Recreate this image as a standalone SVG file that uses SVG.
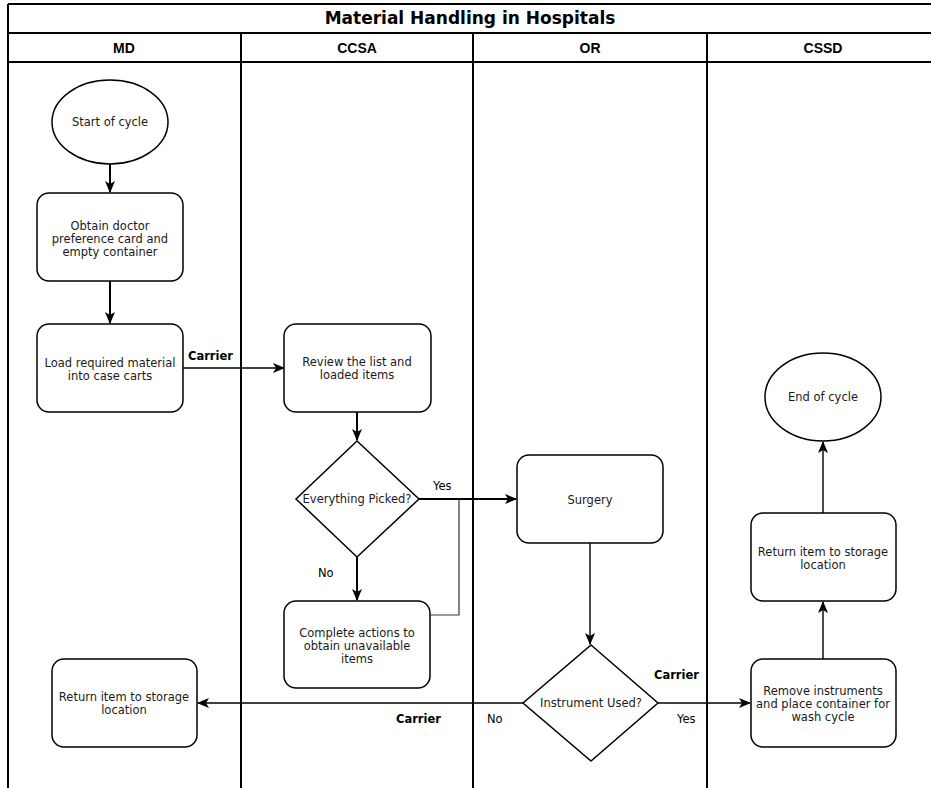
<svg xmlns="http://www.w3.org/2000/svg" width="931" height="788" viewBox="0 0 931 788">
<defs>
<style>
.frame{fill:none;stroke:#000;stroke-width:2}
.node{fill:#fff;stroke:#000;stroke-width:1.5}
.t{font-family:"DejaVu Sans",Verdana,sans-serif;font-size:11.5px;fill:#1a1a1a;text-anchor:middle}
.lbl{font-family:"DejaVu Sans",Verdana,sans-serif;font-size:11.5px;fill:#000}
.b{font-weight:bold}
.title{font-family:"DejaVu Sans",Verdana,sans-serif;font-size:17px;font-weight:bold;text-anchor:middle}
.hdr{font-family:"Liberation Sans",Arial,sans-serif;font-size:14px;font-weight:bold;text-anchor:middle}
.c{fill:none;stroke:#000;stroke-width:1.4}
.c2{fill:none;stroke:#000;stroke-width:2}
.thin{fill:none;stroke:#333;stroke-width:1.2}
</style>
<marker id="arr" viewBox="0 0 12 10" refX="11" refY="5" markerWidth="12" markerHeight="10" markerUnits="userSpaceOnUse" orient="auto">
<path d="M0,0 L12,5 L0,10 L3,5 Z" fill="#000"/>
</marker>
</defs>
<rect width="931" height="788" fill="#fff"/>
<g id="pool">
<path class="frame" d="M8,4 H945 M8,33 H945 M8,62 H945 M8,4 V800 M241,33 V800 M473,33 V800 M707,33 V800"/>
<text class="title" x="470" y="24">Material Handling in Hospitals</text>
<text class="hdr" x="124" y="53">MD</text>
<text class="hdr" x="357" y="53">CCSA</text>
<text class="hdr" x="590" y="53">OR</text>
<text class="hdr" x="823" y="53">CSSD</text>
</g>
<g id="connectors">
<path class="c2" d="M110,164 V192" marker-end="url(#arr)"/>
<path class="c2" d="M110,281 V323" marker-end="url(#arr)"/>
<path class="c" d="M183,368 H284" marker-end="url(#arr)"/>
<text class="lbl b" x="188" y="360">Carrier</text>
<path class="c2" d="M357,412 V440" marker-end="url(#arr)"/>
<path class="c2" d="M419,499 H516" marker-end="url(#arr)"/>
<text class="lbl" x="433" y="490">Yes</text>
<path class="c2" d="M357,557 V600" marker-end="url(#arr)"/>
<text class="lbl" x="318" y="577">No</text>
<path class="thin" d="M430,615 H459 V499"/>
<path class="c" d="M590,543 V644" marker-end="url(#arr)"/>
<path class="c" d="M658,703 H750" marker-end="url(#arr)"/>
<text class="lbl b" x="654" y="679">Carrier</text>
<text class="lbl" x="677" y="723">Yes</text>
<path class="c" d="M523,703 H198" marker-end="url(#arr)"/>
<text class="lbl" x="487" y="723">No</text>
<text class="lbl b" x="396" y="723">Carrier</text>
<path class="c" d="M823,659 V602" marker-end="url(#arr)"/>
<path class="c" d="M823,513 V442" marker-end="url(#arr)"/>
</g>
<g id="start">
<ellipse class="node" cx="110" cy="122" rx="58" ry="42"/>
<text class="t" x="110" y="126">Start of cycle</text>
</g>
<g id="obtain">
<rect class="node" x="37" y="193" width="146" height="88" rx="12"/>
<text class="t" x="110" y="230">Obtain doctor</text>
<text class="t" x="110" y="243">preference card and</text>
<text class="t" x="110" y="256">empty container</text>
</g>
<g id="load">
<rect class="node" x="37" y="324" width="146" height="88" rx="12"/>
<text class="t" x="110" y="367">Load required material</text>
<text class="t" x="110" y="380">into case carts</text>
</g>
<g id="review">
<rect class="node" x="284" y="324" width="147" height="88" rx="12"/>
<text class="t" x="357" y="366">Review the list and</text>
<text class="t" x="357" y="379">loaded items</text>
</g>
<g id="picked">
<path class="node" d="M357,441 L419,499 L357,557 L296,499 Z"/>
<text class="t" x="357" y="503">Everything Picked?</text>
</g>
<g id="complete">
<rect class="node" x="284" y="601" width="146" height="87" rx="12"/>
<text class="t" x="357" y="637">Complete actions to</text>
<text class="t" x="357" y="650">obtain unavailable</text>
<text class="t" x="357" y="663">items</text>
</g>
<g id="surgery">
<rect class="node" x="517" y="455" width="146" height="88" rx="12"/>
<text class="t" x="590" y="504">Surgery</text>
</g>
<g id="instrument">
<path class="node" d="M591,645 L658,703 L591,761 L523,703 Z"/>
<text class="t" x="591" y="707">Instrument Used?</text>
</g>
<g id="return-md">
<rect class="node" x="52" y="659" width="145" height="88" rx="12"/>
<text class="t" x="124" y="701">Return item to storage</text>
<text class="t" x="124" y="714">location</text>
</g>
<g id="remove">
<rect class="node" x="751" y="659" width="145" height="88" rx="12"/>
<text class="t" x="823" y="695">Remove instruments</text>
<text class="t" x="823" y="708">and place container for</text>
<text class="t" x="823" y="721">wash cycle</text>
</g>
<g id="return-cssd">
<rect class="node" x="751" y="513" width="145" height="88" rx="12"/>
<text class="t" x="823" y="556">Return item to storage</text>
<text class="t" x="823" y="569">location</text>
</g>
<g id="end">
<ellipse class="node" cx="823" cy="397" rx="58" ry="44"/>
<text class="t" x="823" y="401">End of cycle</text>
</g>
</svg>
